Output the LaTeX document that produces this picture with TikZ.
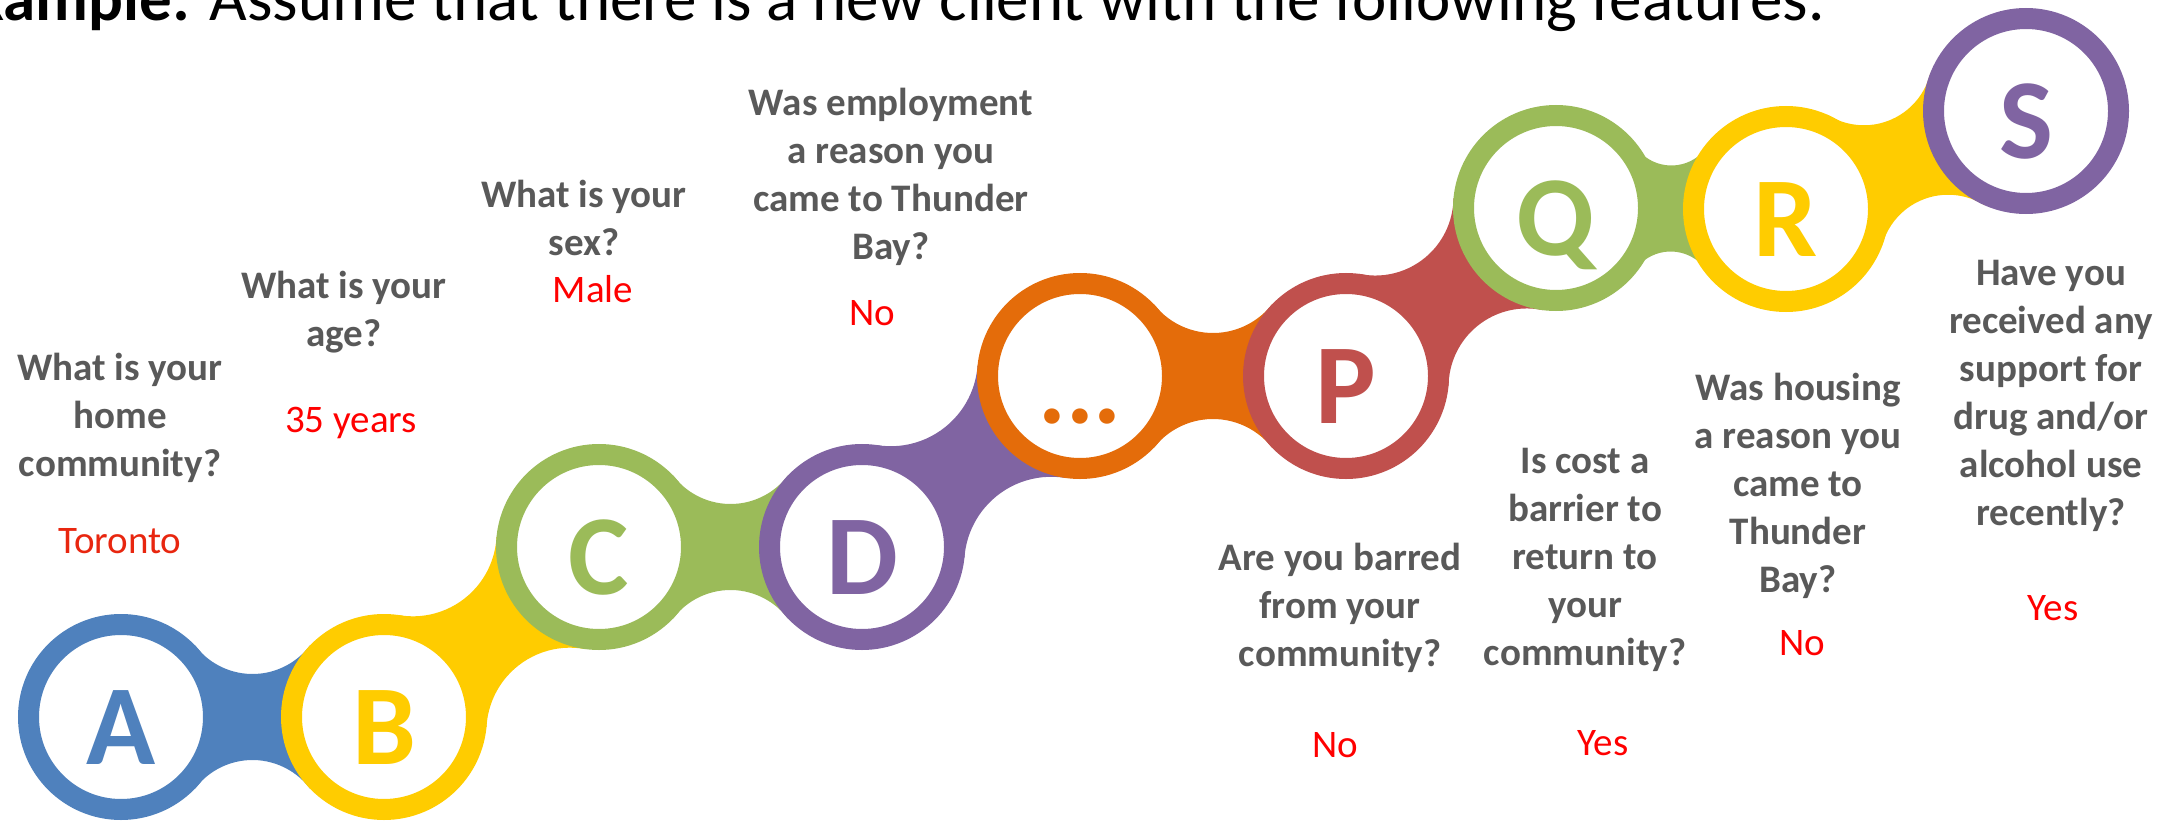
\documentclass[tikz,border=0pt]{standalone}
\usepackage{fontspec}
\setmainfont{Carlito}
\usetikzlibrary{calc}
\pgfdeclarelayer{bg}
\pgfsetlayers{bg,main}
\definecolor{cblue}{HTML}{4F81BD}
\definecolor{cyellow}{HTML}{FFCC00}
\definecolor{cgreen}{HTML}{9BBB59}
\definecolor{cpurple}{HTML}{8064A2}
\definecolor{corange}{HTML}{E46C0A}
\definecolor{cred}{HTML}{C0504D}
\definecolor{qgray}{HTML}{595959}
\definecolor{ared}{HTML}{FF0000}
\definecolor{tred}{HTML}{E8260F}
% bridge between two rings: concave arcs meeting each ring at 44 deg from the axis
\newcommand\linkfill[3]{%
  \fill[#3] let \p1=($(#2.center)-(#1.center)$),
      \n1={veclen(\x1,\y1)}, \n2={atan2(\y1,\x1)},
      \n3={\n1/2-74.09}, \n4={(\n3*\n3+28.55*28.55)/(2*28.55)},
      \n5={atan((\n4-28.55)/\n3)} in
    (#1.center) -- ($(#1.center)+({\n2+44}:103)$)
    arc[start angle={\n2+180+\n5}, end angle={\n2+360-\n5}, radius=\n4]
    -- (#2.center) -- ($(#2.center)+({\n2+224}:103)$)
    arc[start angle={\n2+\n5}, end angle={\n2+180-\n5}, radius=\n4]
    -- cycle;}
\tikzset{
  ring/.style={circle, minimum size=185pt, inner sep=0pt, fill=white,
    line width=21pt, draw=#1, text=#1,
    font=\fontsize{114pt}{114pt}\selectfont\bfseries,
    text height=94pt, text depth=0pt},
  quest/.style={anchor=base, align=center, text=qgray, inner sep=0pt,
    font=\fontsize{39pt}{48pt}\selectfont\bfseries},
  answ/.style={anchor=base, text=ared, inner sep=0pt,
    font=\fontsize{39pt}{48pt}\selectfont},
}
\begin{document}
\begin{tikzpicture}[x=1pt, y=1pt]
\useasboundingbox (0,0) rectangle (2169,-824);
\clip (0,0) rectangle (2169,-824);
\node[anchor=base west, inner sep=0pt, font=\fontsize{65pt}{78pt}\selectfont] (title) at (-57,-21)
  {\textbf{Example:} Assume that there is a new client with the following features.};

\node[ring=cblue] (A) at (121,-717) {A};
\node[ring=cyellow] (B) at (384,-717) {B};
\node[ring=cgreen] (C) at (599,-547) {C};
\node[ring=cpurple] (D) at (862,-547) {D};
\node[ring=corange, font=\fontsize{104pt}{104pt}\selectfont\bfseries] (E) at (1080,-376) {...};
\node[ring=cred] (P) at (1346,-376) {P};
\node[ring=cgreen] (Q) at (1556,-208) {Q};
\node[ring=cyellow] (R) at (1786,-209) {R};
\node[ring=cpurple] (S) at (2026,-111) {S};

\begin{pgfonlayer}{bg}
\linkfill{A}{B}{cblue}
\linkfill{B}{C}{cyellow}
\linkfill{C}{D}{cgreen}
\linkfill{D}{E}{cpurple}
\linkfill{E}{P}{corange}
\linkfill{P}{Q}{cred}
\linkfill{Q}{R}{cgreen}
\linkfill{R}{S}{cyellow}
\end{pgfonlayer}

% multi-line nodes: base anchor sits on the last line
\node[quest] (q1) at (120,-476) {What is your\\home\\community?};
\node[answ, text=tred] (a1) at (120,-553) {Toronto};
\node[quest] (q2) at (344,-346) {What is your\\age?};
\node[answ] (a2) at (351,-432) {35 years};
\node[quest] (q3) at (584,-255) {What is your\\sex?};
\node[answ] (a3) at (593,-302) {Male};
\node[quest] (q4) at (891,-259) {Was employment\\a reason you\\came to Thunder\\Bay?};
\node[answ] (a4) at (872,-325) {No};
\node[quest] (q5) at (1340,-666) {Are you barred\\from your\\community?};
\node[answ] (a5) at (1335,-757) {No};
\node[quest] (q6) at (1585,-665) {Is cost a\\barrier to\\return to\\your\\community?};
\node[answ] (a6) at (1603,-755) {Yes};
\node[quest] (q7) at (1798,-592) {Was housing\\a reason you\\came to\\Thunder\\Bay?};
\node[answ] (a7) at (1802,-655) {No};
\node[quest] (q8) at (2051,-525) {Have you\\received any\\support for\\drug and/or\\alcohol use\\recently?};
\node[answ] (a8) at (2053,-620) {Yes};
\end{tikzpicture}
\end{document}
